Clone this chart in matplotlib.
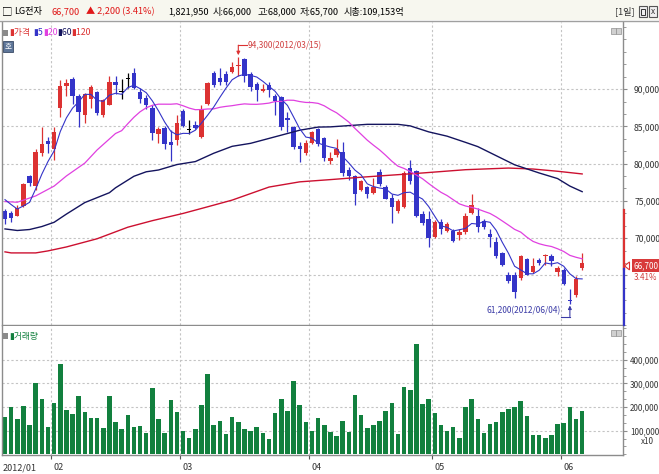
import numpy as np
import pandas as pd
import matplotlib
matplotlib.use('Agg')
import matplotlib.pyplot as plt
from matplotlib.patches import Rectangle, Polygon
from matplotlib.lines import Line2D

plt.rcParams['font.family'] = ['Noto Sans CJK KR', 'DejaVu Sans']
NUMF = ['Noto Sans CJK KR', 'DejaVu Sans']

# ---------------- data ----------------
month_labels = ['2012/01', '02', '03', '04', '05', '06']
month_start = [0, 8, 29, 50, 70, 91]

opens = [73700, 73400, 73000, 74300, 78300, 77000, 81400, 83000, 81900, 87400,
         90400, 91400, 89100, 86500, 88700, 89600, 86500, 87900, 91000, 89600,
         91300, 92100, 89600, 88800, 87400, 84000, 84800, 82900, 83200, 87000,
         84500, 85200, 83600, 88000, 92100, 91500, 92000, 92300, 93100, 94000,
         92000, 90700, 89800, 90500, 89100, 88900, 86100, 84900, 82300, 81400,
         82800, 84600, 83400, 80400, 81100, 81600, 79200, 78300, 76500, 76800,
         76000, 78900, 76900, 75400, 73600, 74200, 79400, 79000, 73300, 72600,
         70100, 72100, 70900, 70900, 70400, 70800, 73400, 73000, 72300, 70500,
         69500, 68000, 65100, 65100, 64700, 67200, 65500, 67000, 67600, 67600,
         65400, 65700, 61700, 62300, 66000]
highs = [73900, 73700, 74500, 77400, 78500, 82000, 84900, 83600, 84900, 91200,
         91300, 91600, 89300, 89500, 90500, 89800, 88700, 91800, 91800, 91300,
         92200, 92800, 90200, 89200, 87800, 84900, 85100, 84500, 86500, 87300,
         85800, 85700, 87800, 91000, 92400, 92800, 92400, 93700, 94300, 94200,
         92300, 90900, 90700, 90900, 89400, 89100, 86900, 85100, 82900, 83200,
         84400, 84800, 83600, 81600, 83300, 82900, 79500, 78500, 77800, 77000,
         78100, 79300, 77100, 75900, 75300, 79000, 80500, 79200, 73600, 73700,
         72400, 72600, 72100, 71200, 71200, 73400, 75900, 74100, 72600, 71200,
         70100, 68100, 65500, 65500, 67700, 67300, 67300, 67300, 67900, 67800,
         66300, 66000, 63100, 64900, 68000]
lows = [71900, 72100, 72900, 74200, 77000, 76500, 81000, 81400, 80500, 86300,
        89100, 88000, 84900, 85400, 87400, 86500, 86200, 87800, 89300, 88700,
        90200, 90000, 88200, 87300, 83200, 82700, 81900, 80400, 82500, 84900,
        84000, 84600, 83400, 87800, 90300, 90600, 90600, 92200, 91800, 91000,
        89700, 88400, 89600, 89000, 86500, 84500, 84300, 82000, 80200, 81200,
        82600, 82400, 80300, 80000, 80900, 78300, 77800, 74500, 76300, 75400,
        75900, 77000, 75200, 72000, 73400, 74100, 77200, 72800, 71800, 68800,
        70000, 70600, 70800, 69500, 69700, 70500, 73300, 70800, 71200, 68800,
        67300, 66200, 64000, 61900, 64400, 65000, 65300, 66400, 66400, 66200,
        64900, 63700, 61200, 62100, 65700]
closes = [72600, 72700, 74100, 77200, 77400, 81600, 82600, 82600, 84300, 90400,
          90800, 89100, 86900, 89300, 90300, 86800, 88500, 91000, 90600, 89600,
          91300, 90100, 88700, 87900, 84100, 84600, 82600, 82500, 85500, 85100,
          84500, 84800, 87300, 90800, 90600, 91000, 91000, 92900, 93300, 91700,
          90300, 89900, 90000, 89900, 88400, 84900, 85900, 82200, 82000, 82800,
          84200, 82600, 80700, 80800, 81900, 78700, 78300, 75900, 77600, 75900,
          76900, 77300, 75300, 74200, 75000, 78700, 77600, 72900, 72000, 70000,
          72100, 71200, 71900, 69600, 70800, 73000, 74500, 71500, 71500, 70100,
          67600, 66400, 64200, 62800, 67600, 65100, 66300, 66600, 67700, 66900,
          66000, 63900, 61500, 64500, 66700]
volumes = [160000, 202000, 148000, 205000, 124000, 301000, 234000, 117000, 219000, 383000,
           188000, 171000, 247000, 181000, 155000, 155000, 113000, 247000, 138000, 107000,
           167000, 117000, 121000, 92000, 282000, 148000, 92000, 230000, 181000, 100000,
           68000, 107000, 209000, 340000, 124000, 141000, 86000, 160000, 138000, 107000,
           100000, 114000, 89000, 65000, 174000, 234000, 185000, 311000, 209000, 138000,
           100000, 155000, 124000, 93000, 78000, 141000, 93000, 251000, 167000, 110000,
           124000, 141000, 185000, 216000, 86000, 284000, 273000, 468000, 213000, 233000,
           174000, 124000, 100000, 114000, 71000, 199000, 233000, 150000, 89000, 127000,
           136000, 178000, 191000, 202000, 226000, 162000, 82000, 82000, 68000, 82000,
           127000, 131000, 202000, 150000, 182195]
prev_closes = [76000, 77100, 75100, 75000]   # closes just before the window (for MA5)

ma20_early_idx = [0, 2, 5, 8, 10, 13, 15, 18]
ma20_early_val = [74900, 74810, 75660, 76980, 78340, 80070, 81830, 84040]

ma60_idx = [0, 2, 4, 6, 8, 10, 13, 17, 18, 21, 23, 25, 28, 31, 34, 37, 40, 44, 48, 51,
            53, 59, 64, 66, 69, 72, 75, 77, 83, 87, 90, 92, 94]
ma60_val = [71230, 71020, 71150, 71550, 72120, 73220, 74770, 76090, 76750, 78300, 78900,
            79140, 79870, 80270, 81390, 82320, 82720, 83600, 84480, 84900, 84930, 85270,
            85270, 85060, 84260, 83680, 82850, 82280, 79840, 78740, 77990, 76980, 76230]

ma120_idx = [0, 1, 5, 7, 10, 15, 20, 24, 29, 33, 37, 43, 48, 53, 58, 68, 75, 82, 86, 90, 94]
ma120_val = [68150, 68010, 68010, 68280, 68810, 69910, 71460, 72340, 73310, 74200, 75100,
             76850, 77550, 77850, 78170, 78740, 79180, 79400, 79270, 78970, 78610]

price_ticks = [65000, 70000, 75000, 80000, 85000, 90000]
vol_ticks = [100000, 200000, 300000, 400000]

# ---------------- style ----------------
RED = '#dc3232'
BLUE = '#3434c8'
MAG = '#e040e0'
NAVY = '#14145e'
RED120 = '#cc1030'
GREEN = '#12803e'
GRID = '#c4c4c4'
AXC = '#8c8c8c'
TXT = '#333333'

W, H = 659, 474
def fx(px): return px / W
def fy(py): return 1 - py / H

fig = plt.figure(figsize=(W / 100, H / 100), dpi=100)
fig.patch.set_facecolor('white')

# header band
fig.add_artist(Rectangle((0, fy(20)), 1, 1 - fy(20), transform=fig.transFigure,
                         facecolor='#f7f7ef', edgecolor='none', zorder=0))
fig.add_artist(Line2D([0, 1], [fy(20.5)] * 2, transform=fig.transFigure, color='#a0a0a0', lw=1))

hy = fy(11.5)
HF = 6.6
fig.text(fx(2), hy, '□', fontsize=7.5, va='center', color='black')
fig.text(fx(14), hy, 'LG전자', fontsize=HF, va='center', color='black')
fig.text(fx(52), hy, '66,700', fontsize=HF, va='center', color='#e01818')
fig.text(fx(86), hy, '▲ 2,200 (3.41%)', fontsize=HF, va='center', color='#e01818')
fig.text(fx(168), hy, '1,821,950', fontsize=HF, va='center', color='black')
fig.text(fx(213), hy, '시:66,000', fontsize=HF, va='center', color='black')
fig.text(fx(257), hy, '고:68,000', fontsize=HF, va='center', color='black')
fig.text(fx(300), hy, '저:65,700', fontsize=HF, va='center', color='black')
fig.text(fx(344), hy, '시총:109,153억', fontsize=HF, va='center', color='black')
fig.text(fx(615), hy, '[1일]', fontsize=HF, va='center', color='#333333')
for bx in (639, 649):
    fig.add_artist(Rectangle((fx(bx), fy(17)), fx(8), 11 / H, transform=fig.transFigure,
                             facecolor='#f0f0f0', edgecolor='#555555', lw=0.8))
fig.text(fx(653), hy, 'x', fontsize=6, va='center', ha='center', color='#333333')
fig.add_artist(Rectangle((fx(641), fy(15)), fx(4), 6 / H, transform=fig.transFigure,
                         facecolor='none', edgecolor='#333333', lw=0.7))

# ---------------- price panel ----------------
n = len(closes)
x = np.arange(n)
o = np.array(opens); h = np.array(highs); l = np.array(lows); c = np.array(closes)

ppx = 6.14
xl = ((2 - 5) / ppx, (623 - 5) / ppx)
def pp(py):  # pixel y -> price
    return 90000 - (py - 90) * 132.45

ax1 = fig.add_axes([fx(2), fy(325), fx(623) - fx(2), fy(22) - fy(325)])
ax1.set_xlim(*xl)
ax1.set_ylim(pp(325), pp(22))
ax1.set_facecolor('white')

for v in price_ticks:
    ax1.axhline(v, color=GRID, lw=0.8, ls=(0, (2, 2)), zorder=0)
for m in month_start[1:]:
    ax1.axvline(m - 0.5, color=GRID, lw=0.8, ls=(0, (2, 2)), zorder=0)

cols = np.where(c > o, RED, np.where(c < o, BLUE, 'black'))
ax1.vlines(x, l, h, colors=cols, lw=0.9, zorder=2)
body_b = np.minimum(o, c)
body_h = np.maximum(np.abs(c - o), 140)
ax1.bar(x, body_h, bottom=body_b, width=0.72, color=cols, linewidth=0, zorder=2)

# moving averages
ext = pd.Series(prev_closes + closes, dtype=float)
ma5 = ext.rolling(5).mean().iloc[len(prev_closes):].to_numpy()
ma20_calc = pd.Series(closes, dtype=float).rolling(20).mean().to_numpy()
ma20_x = ma20_early_idx + list(range(19, n))
ma20_y = ma20_early_val + list(ma20_calc[19:])
ax1.plot(ma120_idx, ma120_val, color=RED120, lw=1.0, zorder=3)
ax1.plot(ma60_idx, ma60_val, color=NAVY, lw=1.0, zorder=3)
ax1.plot(ma20_x, ma20_y, color=MAG, lw=0.9, zorder=3)
ax1.plot(x, ma5, color=BLUE, lw=0.8, zorder=3)

# max / min annotations
imax = int(np.argmax(h)); imin = int(np.argmin(l))
ya = pp(45.5)
ax1.annotate('', xy=(imax, h[imax] + 250), xytext=(imax, ya),
             arrowprops=dict(arrowstyle='-|>', color=RED, lw=0.8, mutation_scale=5, shrinkA=0, shrinkB=0))
ax1.plot([imax, imax + 1.35], [ya, ya], color=RED, lw=0.8)
ax1.text(imax + 1.45, ya, '94,300(2012/03/15)', fontsize=6.0, color='#d04040', va='center',
         ha='left')
yb = pp(320.5)
ax1.annotate('', xy=(imin, l[imin] - 250), xytext=(imin, yb),
             arrowprops=dict(arrowstyle='-|>', color='#3a3aa6', lw=0.8, mutation_scale=5, shrinkA=0, shrinkB=0))
ax1.plot([imin - 1.4, imin], [yb, yb], color='#3a3aa6', lw=0.8)
ax1.text(imin - 1.55, pp(314.5), '61,200(2012/06/04)', fontsize=6.0, color='#3a3aa6', va='center',
         ha='right')

# axes styling
ax1.spines['top'].set_visible(False)
for s in ('left', 'right', 'bottom'):
    ax1.spines[s].set_color(AXC)
    ax1.spines[s].set_linewidth(1)
ax1.set_xticks([])
ax1.yaxis.tick_right()
ax1.set_yticks(price_ticks)
ax1.set_yticklabels(['' if v == 65000 else f'{v:,}' for v in price_ticks])
ax1.set_yticks(np.arange(pp(325) - pp(325) % (5000 / 3), pp(22), 5000 / 3), minor=True)
ax1.tick_params(axis='y', which='major', direction='out', length=3, color=AXC,
                labelsize=6.2, labelcolor=TXT, pad=5)
ax1.tick_params(axis='y', which='minor', direction='out', length=2, color=AXC)

# legend
ly = fy(33)
fig.add_artist(Rectangle((fx(3), fy(36)), fx(5), 6 / H, transform=fig.transFigure,
                         facecolor='#8a8a8a', edgecolor='none'))
for px_, lab, col in [(9, '▮가격', RED), (33, '▮5', BLUE), (43, '▮20', MAG),
                      (57, '▮60', NAVY), (71, '▮120', RED)]:
    fig.text(fx(px_), ly, lab, fontsize=6.3, color=col, va='center')
fig.add_artist(Rectangle((fx(3), fy(52)), fx(10), 11 / H, transform=fig.transFigure,
                         facecolor='#5d7598', edgecolor='#3a4a66', lw=0.6))
fig.text(fx(8), fy(46.5), '호', fontsize=5.5, color='white', va='center', ha='center')
for bx in (611, 616):
    fig.add_artist(Rectangle((fx(bx), fy(34)), fx(4.5), 6 / H, transform=fig.transFigure,
                             facecolor='#d0d0d0', edgecolor='#909090', lw=0.5))

# current price marker on the right axis
def py_of(v):
    return 90 - (v - 90000) / 132.45
fig.add_artist(Line2D([fx(623.5)] * 2, [fy(py_of(74100)), fy(py_of(66300))], transform=fig.transFigure,
                      color=RED, lw=1.6))
fig.add_artist(Line2D([fx(623.5)] * 2, [fy(py_of(66300)), fy(325)], transform=fig.transFigure,
                      color=BLUE, lw=1.6))
cy = py_of(66700)
fig.add_artist(Rectangle((fx(632), fy(cy + 6.5)), fx(27), 13 / H, transform=fig.transFigure,
                         facecolor='#d83a3a', edgecolor='none'))
fig.text(fx(645.5), fy(cy), '66,700', fontsize=5.8, color='white', va='center', ha='center')
fig.add_artist(Polygon([(fx(624.5), fy(cy)), (fx(629.5), fy(cy - 4)), (fx(629.5), fy(cy + 4))],
                       closed=True, transform=fig.transFigure, facecolor='none', edgecolor=RED, lw=0.8))
fig.text(fx(657), fy(cy + 12), '3.41%', fontsize=5.8, color='#d04040', va='center', ha='right')

# ---------------- volume panel ----------------
ax2 = fig.add_axes([fx(2), fy(455), fx(623) - fx(2), fy(326) - fy(455)])
ax2.set_xlim(*xl)
ax2.set_ylim(-3000, 543600)
for v in vol_ticks:
    ax2.axhline(v, color=GRID, lw=0.8, ls=(0, (2, 2)), zorder=0)
for m in month_start[1:]:
    ax2.axvline(m - 0.5, color=GRID, lw=0.8, ls=(0, (2, 2)), zorder=0)
ax2.bar(x, volumes, width=0.74, color=GREEN, linewidth=0, zorder=2)
ax2.spines['top'].set_visible(False)
for s in ('left', 'right', 'bottom'):
    ax2.spines[s].set_color(AXC)
    ax2.spines[s].set_linewidth(1)
ax2.yaxis.tick_right()
ax2.set_yticks(vol_ticks)
ax2.set_yticklabels([f'{v:,}' for v in vol_ticks])
ax2.set_yticks(np.arange(0, 543600, 100000 / 3), minor=True)
ax2.tick_params(axis='y', which='major', direction='out', length=3, color=AXC,
                labelsize=5.8, labelcolor=TXT, pad=2)
ax2.tick_params(axis='y', which='minor', direction='out', length=2, color=AXC)
ax2.set_xticks([m - 0.5 for m in month_start[1:]])
ax2.set_xticklabels([])
ax2.tick_params(axis='x', direction='out', length=3, color='#555555')
fig.text(fx(641), fy(441), 'x10', fontsize=5.8, color=TXT, va='center')

fig.add_artist(Rectangle((fx(3), fy(339)), fx(5), 6 / H, transform=fig.transFigure,
                         facecolor='#8a8a8a', edgecolor='none'))
fig.text(fx(9), fy(336), '▮거래량', fontsize=6.3, color=GREEN, va='center')
for bx in (611, 616):
    fig.add_artist(Rectangle((fx(bx), fy(336)), fx(4.5), 6 / H, transform=fig.transFigure,
                             facecolor='#d0d0d0', edgecolor='#909090', lw=0.5))

# month labels under the volume panel
for k, (m, lab) in enumerate(zip(month_start, month_labels)):
    xpos = -0.35 if k == 0 else m - 0.5 + 0.45
    ax2.text(xpos, -0.065, lab, transform=ax2.get_xaxis_transform(), fontsize=6.5, color=TXT,
             va='top', ha='left')

fig.savefig('out.png', dpi=100, facecolor='white')
